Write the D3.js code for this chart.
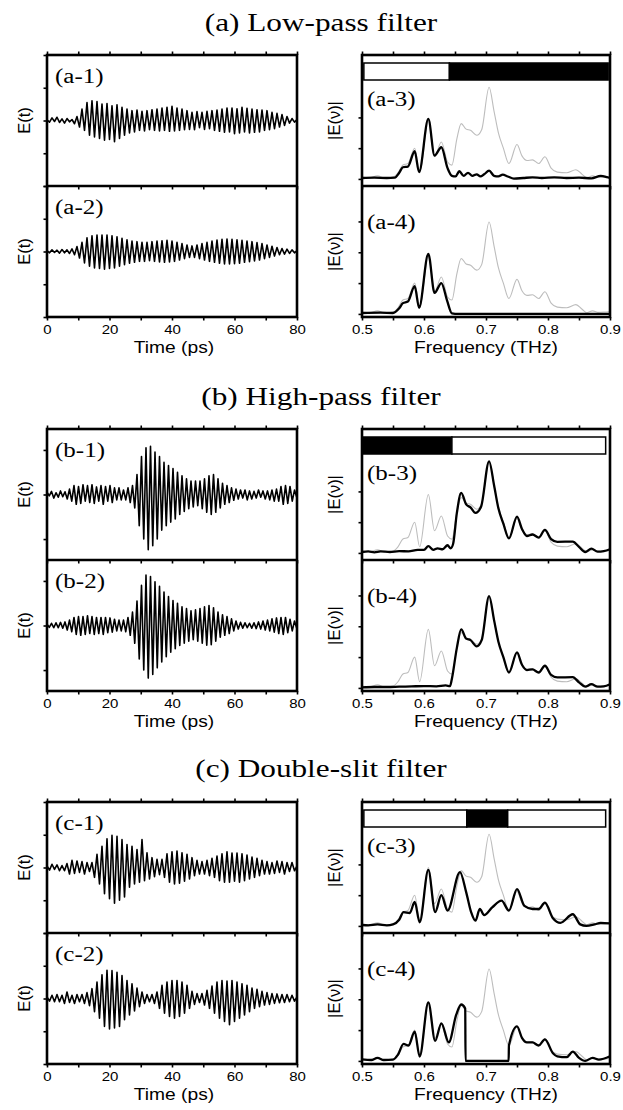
<!DOCTYPE html>
<html>
<head>
<meta charset="utf-8">
<script src="https://cdn.jsdelivr.net/npm/d3@7"></script>
<style>
body { margin: 0; background: #fff; }
</style>
</head>
<body>
<script>
// ---- data ----
const sectionTitles = ["(a) Low-pass filter", "(b) High-pass filter", "(c) Double-slit filter"];
const panelLabels = [["(a-1)", "(a-2)", "(a-3)", "(a-4)"],
                     ["(b-1)", "(b-2)", "(b-3)", "(b-4)"],
                     ["(c-1)", "(c-2)", "(c-3)", "(c-4)"]];
const timeTicks = [0, 20, 40, 60, 80];
const timeMinorTicks = [10, 30, 50, 70];
const freqTicks = [0.5, 0.6, 0.7, 0.8, 0.9];
const freqMinorTicks = [0.55, 0.65, 0.75, 0.85];
const fieldRange = [2, 1.47, 2];          // E(t) half range per section
const specTicksUpper = [0, 1, 2];
const specTicksLower = [0, 1, 2, 3];
const sampleStep = [0.8, 0.72, 0.8];      // ps between samples, per section

// time-domain traces, one sample every sampleStep ps from 0 ps
const eA1 = [0.02,-0.05,0.08,-0.03,0.1,-0.06,0.05,-0.08,0.06,-0.04,0.03,
  -0.1,0.12,-0.2,0.35,-0.3,
  0.55,-0.45,0.6,-0.5,0.58,-0.55,0.5,
  -0.6,0.52,-0.58,0.45,-0.65,0.48,-0.55,0.4,
  -0.45,0.35,-0.38,0.3,-0.35,0.32,-0.3,0.28,-0.32,0.3,-0.28,0.33,-0.3,
  0.35,-0.32,0.38,-0.3,0.4,-0.33,0.43,-0.32,0.38,-0.3,0.35,-0.28,
  0.3,-0.27,0.25,-0.28,0.27,-0.22,0.25,-0.27,0.28,-0.25,0.3,-0.3,0.32,
  -0.33,0.35,-0.36,0.38,-0.35,0.38,-0.4,0.36,-0.38,0.4,-0.35,0.37,-0.38,0.35,-0.36,0.33,-0.35,0.32,-0.3,
  0.3,-0.28,0.25,-0.25,0.22,-0.2,0.18,-0.15,0.12,
  -0.08,0.06,-0.05,0.03];
const eA2 = [0.03,-0.04,0.05,-0.03,0.04,-0.05,0.06,-0.04,0.05,-0.06,0.08,
  -0.1,0.15,-0.2,0.28,-0.35,
  0.42,-0.45,0.48,-0.5,0.5,-0.52,0.5,
  -0.54,0.5,-0.52,0.48,-0.5,0.45,-0.45,0.4,
  -0.4,0.36,-0.36,0.32,-0.33,0.3,-0.3,0.28,-0.3,0.28,-0.28,0.3,-0.3,
  0.32,-0.32,0.33,-0.33,0.34,-0.32,0.32,-0.3,0.28,-0.26,0.24,-0.22,
  0.2,-0.18,0.17,-0.18,0.2,-0.22,0.24,-0.26,0.28,-0.3,0.32,-0.33,0.35,
  -0.36,0.37,-0.38,0.38,-0.38,0.37,-0.37,0.36,-0.36,0.34,-0.33,0.32,-0.31,0.3,-0.29,0.27,-0.26,0.24,-0.22,
  0.2,-0.18,0.16,-0.14,0.12,-0.1,0.09,-0.08,0.07,
  -0.06,0.05,-0.04,0.03];
const eB1 = [0.05,-0.03,0.07,-0.08,0.04,-0.06,0.08,-0.05,0.06,-0.1,0.12,-0.15,
  0.2,-0.22,0.18,-0.2,0.22,-0.15,0.2,-0.18,0.22,-0.2,0.17,-0.15,0.2,-0.22,0.18,-0.15,0.2,-0.18,0.15,-0.12,0.15,-0.12,0.1,
  -0.12,0.15,-0.18,0.2,-0.3,0.45,
  -0.7,0.85,-1.0,1.05,-1.24,1.08,-1.15,
  0.95,-1.0,0.85,-0.8,0.72,-0.7,0.65,-0.62,0.58,
  -0.55,0.5,-0.45,0.42,-0.38,0.35,-0.32,
  0.3,-0.28,0.3,-0.25,0.3,-0.32,0.35,
  -0.4,0.42,-0.45,0.45,-0.4,0.35,-0.3,
  0.25,-0.22,0.2,-0.18,0.15,-0.13,0.12,
  -0.1,0.1,-0.08,0.1,-0.12,0.08,-0.1,0.07,-0.08,0.1,-0.06,0.08,-0.1,0.08,
  -0.12,0.1,-0.15,0.12,-0.15,0.18,
  -0.22,0.2,-0.2,0.18,-0.15,0.1,-0.06];
const eB2 = [0.03,-0.04,0.05,-0.05,0.06,-0.05,0.07,-0.06,0.08,-0.1,0.12,-0.14,
  0.18,-0.2,0.2,-0.22,0.2,-0.2,0.22,-0.18,0.2,-0.2,0.18,-0.18,0.18,-0.2,0.18,-0.16,0.17,-0.15,0.14,-0.12,0.12,-0.12,0.12,
  -0.14,0.18,-0.22,0.3,-0.4,0.55,
  -0.75,0.9,-1.0,1.13,-1.18,1.1,-1.1,
  0.98,-0.95,0.88,-0.82,0.75,-0.7,0.65,-0.6,0.56,
  -0.52,0.5,-0.45,0.42,-0.4,0.38,-0.35,
  0.33,-0.32,0.35,-0.35,0.38,-0.4,0.42,
  -0.44,0.45,-0.43,0.4,-0.35,0.3,-0.26,
  0.24,-0.22,0.2,-0.18,0.15,-0.12,0.1,
  -0.08,0.07,-0.06,0.06,-0.05,0.05,-0.06,0.06,-0.07,0.08,-0.08,0.1,-0.1,0.12,
  -0.12,0.15,-0.15,0.17,-0.18,0.18,
  -0.2,0.18,-0.16,0.14,-0.12,0.1,-0.06];
const eC1 = [0.05,-0.08,0.1,-0.06,0.08,-0.1,0.06,-0.1,0.12,
  -0.2,0.22,-0.18,0.2,-0.15,0.18,-0.2,0.15,-0.12,0.15,
  -0.3,0.4,-0.5,0.65,
  -0.8,0.88,-0.95,0.98,-1.09,0.95,-1.0,0.85,-0.9,
  0.7,-0.6,0.65,-0.5,0.55,-0.45,0.85,-0.4,0.45,
  -0.35,0.3,-0.28,0.25,-0.22,0.25,-0.3,
  0.42,-0.45,0.48,-0.5,0.5,-0.48,0.45,-0.42,0.4,-0.35,0.3,
  -0.25,0.22,-0.2,0.18,-0.2,0.22,-0.25,0.28,-0.3,0.35,
  -0.4,0.42,-0.45,0.48,-0.45,0.44,-0.42,0.44,-0.45,0.42,-0.4,0.38,-0.35,0.32,-0.3,
  0.28,-0.25,0.22,-0.2,0.18,-0.2,0.15,-0.18,0.2,-0.15,0.18,-0.2,0.15,-0.12,0.15,-0.1,0.05];
const eC2 = [0.05,-0.08,0.1,-0.1,0.12,-0.1,0.1,-0.15,0.2,
  -0.12,0.1,-0.15,0.12,-0.1,0.12,-0.15,0.18,-0.22,0.3,
  -0.4,0.5,-0.6,0.72,
  -0.85,0.86,-0.93,0.85,-0.9,0.8,-0.85,0.7,-0.65,
  0.55,-0.5,0.45,-0.38,0.32,-0.25,0.2,-0.15,0.12,
  -0.1,0.12,-0.15,0.2,-0.3,0.4,-0.45,
  0.5,-0.55,0.55,-0.6,0.55,-0.55,0.5,-0.45,0.4,-0.3,0.22,
  -0.18,0.15,-0.12,0.15,-0.2,0.25,-0.3,0.38,-0.45,0.5,
  -0.6,0.55,-0.7,0.53,-0.8,0.55,-0.7,0.5,-0.6,0.45,-0.5,0.4,-0.4,0.32,-0.3,
  0.28,-0.25,0.22,-0.2,0.18,-0.18,0.15,-0.15,0.14,-0.13,0.12,-0.12,0.12,-0.1,0.1,-0.08,0.05];

// spectra as [frequency THz, |E|] key points
const specRef = [[0.5,0.05],[0.512,0.04],[0.525,0.1],[0.537,0.03],[0.55,0.06],[0.558,0.2],[0.566,0.45],[0.574,0.5],
  [0.585,1.0],[0.593,0.2],[0.607,1.9],[0.617,0.72],[0.628,1.2],[0.638,0.55],[0.645,0.45],[0.653,1.3],[0.66,1.8],
  [0.668,1.62],[0.675,1.58],[0.685,1.42],[0.693,1.6],[0.705,2.98],[0.713,2.2],[0.72,1.5],[0.728,1.0],[0.737,0.5],
  [0.75,1.12],[0.758,0.75],[0.766,0.6],[0.775,0.62],[0.785,0.5],[0.795,0.72],[0.805,0.35],[0.815,0.22],[0.83,0.2],
  [0.845,0.3],[0.855,0.15],[0.862,0.04],[0.872,0.1],[0.88,0.05],[0.89,0.06],[0.9,0.08]];
const specA3 = [[0.5,0.03],[0.52,0.04],[0.54,0.03],[0.553,0.04],[0.56,0.2],[0.566,0.38],[0.574,0.4],[0.585,0.9],
  [0.592,0.22],[0.607,1.95],[0.617,0.76],[0.628,1.03],[0.638,0.35],[0.645,0.1],[0.651,0.08],[0.657,0.25],[0.664,0.1],
  [0.671,0.2],[0.678,0.1],[0.685,0.15],[0.691,0.08],[0.697,0.15],[0.705,0.27],[0.713,0.1],[0.72,0.08],[0.727,0.14],
  [0.735,0.08],[0.745,0.01],[0.76,0.03],[0.775,0.05],[0.79,0.03],[0.81,0.05],[0.83,0.03],[0.85,0.04],[0.87,0.02],
  [0.885,0.1],[0.895,0.06],[0.9,0.03]];
const specA4 = [[0.5,0.03],[0.53,0.04],[0.55,0.03],[0.56,0.18],[0.566,0.35],[0.574,0.4],[0.585,0.9],[0.592,0.2],
  [0.607,1.95],[0.617,0.68],[0.628,1.0],[0.637,0.45],[0.645,0.02],[0.655,0],[0.9,0]];
const specB3 = [[0.5,0.03],[0.51,0.05],[0.52,0.02],[0.53,0.05],[0.545,0.03],[0.56,0.06],[0.575,0.05],[0.59,0.1],
  [0.6,0.1],[0.607,0.22],[0.615,0.1],[0.622,0.15],[0.63,0.12],[0.638,0.25],[0.643,0.15],[0.647,0.3],[0.653,1.3],
  [0.66,1.95],[0.668,1.58],[0.675,1.48],[0.683,1.3],[0.692,1.5],[0.705,2.98],[0.713,2.2],[0.72,1.45],[0.728,0.95],
  [0.737,0.47],[0.75,1.18],[0.758,0.78],[0.766,0.55],[0.775,0.6],[0.785,0.5],[0.795,0.75],[0.805,0.45],[0.815,0.36],
  [0.84,0.37],[0.85,0.2],[0.86,0.03],[0.87,0.14],[0.88,0.04],[0.89,0.06],[0.9,0.12]];
const specB4 = [[0.5,0.02],[0.52,0.03],[0.54,0.03],[0.56,0.04],[0.58,0.05],[0.6,0.06],[0.62,0.05],[0.635,0.08],
  [0.642,0.06],[0.645,0.3],[0.653,1.3],[0.66,1.9],[0.668,1.6],[0.675,1.55],[0.685,1.35],[0.693,1.55],[0.705,2.98],
  [0.713,2.2],[0.72,1.5],[0.728,1.0],[0.737,0.5],[0.75,1.15],[0.758,0.75],[0.766,0.58],[0.775,0.6],[0.785,0.5],
  [0.795,0.72],[0.805,0.42],[0.815,0.34],[0.84,0.35],[0.85,0.18],[0.86,0.04],[0.87,0.12],[0.88,0.04],[0.89,0.05],[0.9,0.12]];
const specC3 = [[0.5,0.03],[0.51,0.02],[0.525,0.05],[0.54,0.02],[0.55,0.05],[0.56,0.2],[0.567,0.45],[0.577,0.42],
  [0.585,0.78],[0.593,0.12],[0.607,1.82],[0.618,0.45],[0.628,1.0],[0.638,0.5],[0.658,1.75],[0.668,1.1],[0.676,0.45],
  [0.683,0.17],[0.69,0.55],[0.697,0.35],[0.71,0.6],[0.725,0.82],[0.737,0.5],[0.75,1.2],[0.762,0.65],[0.775,0.55],
  [0.785,0.55],[0.795,0.76],[0.808,0.25],[0.82,0.1],[0.84,0.38],[0.852,0.05],[0.862,0],[0.875,0.05],[0.885,0.1],[0.9,0.08]];
const specC4 = [[0.5,0.05],[0.515,0.03],[0.525,0.1],[0.535,0.03],[0.55,0.04],[0.558,0.2],[0.567,0.55],[0.575,0.5],
  [0.585,0.95],[0.593,0.14],[0.607,1.9],[0.618,0.65],[0.628,1.22],[0.64,0.6],[0.652,1.5],[0.66,1.83],[0.6665,1.7],
  [0.667,0],[0.7365,0],[0.737,0.5],[0.75,1.12],[0.758,0.75],[0.766,0.6],[0.775,0.6],[0.785,0.5],[0.795,0.7],
  [0.808,0.25],[0.815,0.15],[0.83,0.12],[0.84,0.3],[0.85,0.1],[0.86,0],[0.872,0.1],[0.882,0.04],[0.9,0.15]];

// filter masks drawn above the spectra: [from, to, state]
const barA = [[0.503, 0.641, "pass"], [0.641, 0.897, "stop"]];
const barB = [[0.501, 0.645, "stop"], [0.645, 0.893, "pass"]];
const barC = [[0.503, 0.669, "pass"], [0.669, 0.735, "stop"], [0.735, 0.893, "pass"]];

// ---- layout ----
const W = 623, H = 1110;
const leftX = [47, 297], rightX = [362, 610];
const sectionTop = [55, 429, 802], halfH = 131;
const titleY = [31, 405, 777];
const serif = "'Liberation Serif', 'Times New Roman', serif";
const sans = "'Liberation Sans', Arial, sans-serif";

const sections = sectionTitles.map((t, i) => ({
    title: t,
    labels: panelLabels[i],
    left: [[eA1, eA2], [eB1, eB2], [eC1, eC2]][i],
    right: [[specA3, specA4], [specB3, specB4], [specC3, specC4]][i],
    bar: [barA, barB, barC][i],
    range: fieldRange[i],
    step: sampleStep[i]
}));

const svg = d3.select("body").append("svg")
    .attr("width", W).attr("height", H)
    .style("background", "#fff");

function stretchText(g, x, y, str, size, family, sx, anchor) {
    return g.append("text")
        .attr("transform", "translate(" + x + "," + y + ") scale(" + sx + ",1)")
        .attr("text-anchor", anchor || "start")
        .attr("font-family", family)
        .attr("font-size", size)
        .attr("fill", "#000")
        .text(str);
}

function styleAxis(sel) {
    sel.select(".domain").remove();
    sel.selectAll(".tick line").attr("stroke", "#000").attr("stroke-width", 1.6);
    sel.selectAll(".tick text")
        .attr("font-family", sans)
        .attr("font-size", 12.5)
        .attr("fill", "#000")
        .attr("transform", "scale(1.2,1)");
}

function xTicks(g, x, top, mid, bot, major, minor, fmt) {
    const all = major.concat(minor);
    g.append("g").attr("transform", "translate(0," + top + ")")
        .call(d3.axisTop(x).tickValues(all).tickSize(3.5).tickFormat(""))
        .call(styleAxis);
    g.append("g").attr("transform", "translate(0," + mid + ")")
        .call(d3.axisBottom(x).tickValues(all).tickSize(3.5).tickFormat(""))
        .call(styleAxis);
    g.append("g").attr("transform", "translate(0," + bot + ")")
        .call(d3.axisBottom(x).tickValues(minor).tickSize(3.5).tickFormat(""))
        .call(styleAxis);
    g.append("g").attr("transform", "translate(0," + bot + ")")
        .call(d3.axisBottom(x).tickValues(major).tickSize(3.5).tickPadding(5).tickFormat(fmt))
        .call(styleAxis);
}

function frame(g, xr, top, mid, bot) {
    g.append("rect")
        .attr("x", xr[0]).attr("y", top)
        .attr("width", xr[1] - xr[0]).attr("height", bot - top)
        .attr("fill", "none").attr("stroke", "#000").attr("stroke-width", 2.6);
    g.append("line")
        .attr("x1", xr[0]).attr("x2", xr[1]).attr("y1", mid).attr("y2", mid)
        .attr("stroke", "#000").attr("stroke-width", 2.6);
}

sections.forEach((s, i) => {
    const top = sectionTop[i], mid = top + halfH, bot = mid + halfH;
    const g = svg.append("g");

    stretchText(g, 321, titleY[i], s.title, 25, serif, 1.25, "middle");

    // time domain (left)
    const x = d3.scaleLinear().domain([0, 80]).range(leftX);
    [0, 1].forEach(k => {
        const y0 = k ? mid : top, y1 = k ? bot : mid;
        const y = d3.scaleLinear().domain([-s.range, s.range]).range([y1, y0]);
        const line = d3.line().x((d, j) => x(j * s.step)).y(d => y(d));
        g.append("path").datum(s.left[k])
            .attr("d", line)
            .attr("fill", "none").attr("stroke", "#000")
            .attr("stroke-width", 1.6).attr("stroke-linejoin", "round");
        const yt = d3.range(-Math.floor(s.range), Math.floor(s.range) + 1);
        g.append("g").attr("transform", "translate(" + leftX[0] + ",0)")
            .call(d3.axisLeft(y).tickValues(yt).tickSize(3.5).tickFormat(""))
            .call(styleAxis);
        g.append("text")
            .attr("transform", "translate(30," + (y0 + y1) / 2 + ") rotate(-90)")
            .attr("text-anchor", "middle")
            .attr("font-family", sans).attr("font-size", 16.5)
            .text("E(t)");
        stretchText(g, 55, y0 + 28, s.labels[k], 20, serif, 1.25);
    });
    xTicks(g, x, top, mid, bot, timeTicks, timeMinorTicks, d3.format("d"));
    stretchText(g, 174, bot + 36, "Time (ps)", 16, sans, 1.2, "middle");
    frame(g, leftX, top, mid, bot);

    // spectra (right)
    const xf = d3.scaleLinear().domain([0.5, 0.9]).range(rightX);
    [0, 1].forEach(k => {
        const y0 = k ? mid : top, y1 = k ? bot : mid;
        const dom = k ? [-0.1, 4.15] : [-0.23, 4.03];
        const y = d3.scaleLinear().domain(dom).range([y1, y0]);
        const line = d3.line().x(d => xf(d[0])).y(d => y(d[1])).curve(d3.curveMonotoneX);
        g.append("path").datum(specRef)
            .attr("d", line)
            .attr("fill", "none").attr("stroke", "#bdbdbd").attr("stroke-width", 1.1);
        g.append("path").datum(s.right[k])
            .attr("d", line)
            .attr("fill", "none").attr("stroke", "#000")
            .attr("stroke-width", 2.3).attr("stroke-linejoin", "round");
        g.append("g").attr("transform", "translate(" + rightX[0] + ",0)")
            .call(d3.axisLeft(y).tickValues(k ? specTicksLower : specTicksUpper).tickSize(3.5).tickFormat(""))
            .call(styleAxis);
        g.append("text")
            .attr("transform", "translate(340," + (y0 + y1) / 2 + ") rotate(-90)")
            .attr("text-anchor", "middle")
            .attr("font-family", sans).attr("font-size", 16.5)
            .text("|E(ν)|");
        stretchText(g, 367, y0 + (k ? 43 : 51), s.labels[k + 2], 20, serif, 1.25);
    });

    // filter mask bar
    g.selectAll(".bar" + i)
        .data(s.bar)
        .enter().append("rect")
        .attr("x", d => xf(d[0]))
        .attr("y", top + 8)
        .attr("width", d => xf(d[1]) - xf(d[0]))
        .attr("height", 17)
        .attr("fill", d => d[2] === "stop" ? "#000" : "#fff")
        .attr("stroke", "#000").attr("stroke-width", 1.5);

    xTicks(g, xf, top, mid, bot, freqTicks, freqMinorTicks, d3.format(".1f"));
    stretchText(g, 486, bot + 36, "Frequency (THz)", 16, sans, 1.2, "middle");
    frame(g, rightX, top, mid, bot);
});
</script>
</body>
</html>
